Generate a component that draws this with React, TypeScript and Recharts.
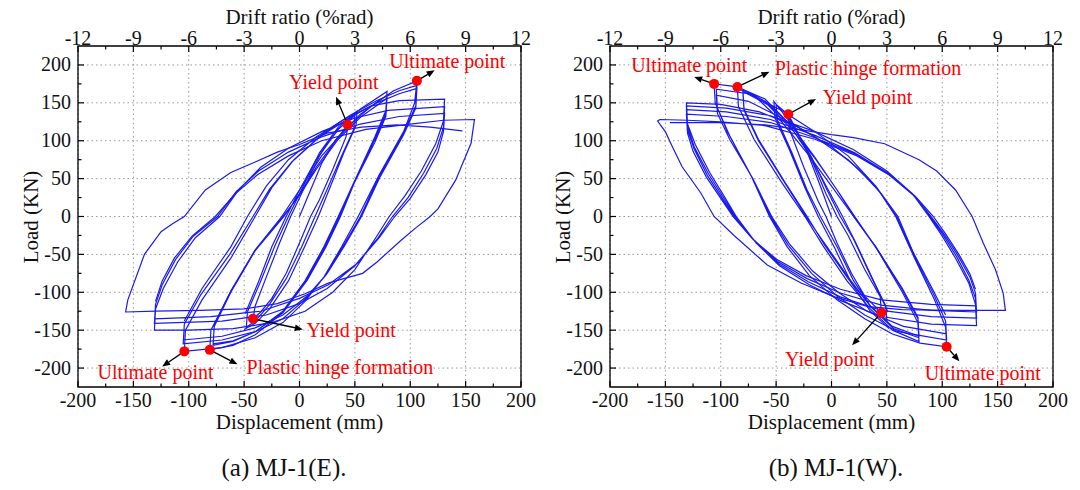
import React from 'react';
import {
  ComposedChart,
  Line,
  XAxis,
  YAxis,
  CartesianGrid,
  ReferenceArea,
  ReferenceDot,
  ReferenceLine,
} from 'recharts';

type Pt = [number, number];

const FONT = "'Liberation Serif', 'Times New Roman', Times, 'DejaVu Serif', serif";
const BLUE = '#1a1af0';
const RED = '#ff0000';

// axis ticks (minor ticks are the ones without a label)
const DISP_TICKS = [-200, -175, -150, -125, -100, -75, -50, -25, 0, 25, 50, 75, 100, 125, 150, 175, 200];
const DISP_LABELS = [-200, -150, -100, -50, 0, 50, 100, 150, 200];
const DRIFT_TICKS = [-12, -10.5, -9, -7.5, -6, -4.5, -3, -1.5, 0, 1.5, 3, 4.5, 6, 7.5, 9, 10.5, 12];
const DRIFT_LABELS = [-12, -9, -6, -3, 0, 3, 6, 9, 12];
const LOAD_TICKS = [-200, -175, -150, -125, -100, -75, -50, -25, 0, 25, 50, 75, 100, 125, 150, 175, 200];
const LOAD_LABELS = [-200, -150, -100, -50, 0, 50, 100, 150, 200];

// ---- MJ-1(E): displacement (mm), load (kN) ----
const E_LOOP_50: Pt[] = [
  [0, 0], [10, 35], [20, 70], [32, 100], [44, 121],
  [42, 105], [30, 62], [18, 22], [10, 0], [0, -35], [-12, -75], [-25, -108], [-35, -126], [-42, -135],
  [-40, -118], [-30, -80], [-18, -35], [-8, 0], [5, 40], [18, 80], [32, 112], [50, 133],
  [49, 115], [38, 80], [25, 36], [14, 0], [2, -40], [-12, -82], [-28, -118], [-40, -138], [-48, -146],
  [-47, -126], [-35, -85], [-22, -38], [-10, 0], [4, 42], [18, 84], [35, 118], [52, 139],
  [51, 120], [40, 84], [28, 40], [17, 0], [4, -42], [-10, -85], [-27, -122], [-40, -141], [-50, -149],
];
const E_LOOP_80: Pt[] = [
  [-49, -128], [-37, -86], [-25, -40], [-12, 0], [0, 35], [15, 75], [35, 115], [55, 142], [79, 165],
  [78, 140], [68, 105], [50, 48], [35, 0], [22, -40], [5, -85], [-15, -125], [-40, -152], [-60, -165], [-78, -170],
  [-77, -145], [-62, -100], [-40, -45], [-14, 0], [0, 30], [15, 65], [35, 105], [55, 135], [79, 160],
  [78, 136], [68, 102], [50, 48], [36, 0], [23, -40], [6, -85], [-15, -127], [-40, -156], [-60, -170], [-81, -176],
  [-80, -150], [-63, -102], [-41, -47], [-15, 0], [0, 28], [15, 62], [35, 102], [55, 131], [79, 156],
  [78, 132], [68, 98], [50, 46], [37, 0], [24, -40], [7, -84], [-14, -125], [-40, -152], [-60, -164], [-78, -168],
];
const E_LOOP_105: Pt[] = [
  [-77, -143], [-62, -98], [-40, -44], [-16, 0], [0, 35], [20, 80], [45, 120], [65, 146], [85, 166], [106, 179],
  [104, 150], [94, 112], [72, 55], [53, 0], [38, -40], [22, -80], [5, -112], [-15, -140], [-40, -160], [-70, -173], [-104, -178],
  [-103, -150], [-88, -110], [-62, -55], [-40, 0], [-25, 38], [-5, 75], [20, 108], [45, 133], [70, 153], [90, 166], [106, 173],
  [105, 146], [94, 110], [72, 53], [55, 0], [40, -38], [24, -77], [6, -108], [-15, -135], [-40, -152], [-70, -163], [-105, -168],
  [-104, -142], [-89, -103], [-63, -50], [-42, 0], [-27, 36], [-7, 72], [18, 105], [45, 130], [70, 150], [90, 162], [106, 169],
  [105, 143], [94, 108], [73, 53], [56, 0], [41, -38], [25, -75], [7, -105], [-15, -130], [-40, -147], [-70, -158], [-105, -163],
];
const E_LOOP_130: Pt[] = [
  [-104, -138], [-88, -95], [-62, -40], [-47, 0], [-30, 40], [-10, 75], [15, 105], [40, 128], [65, 146], [90, 153], [131, 155],
  [130, 126], [123, 96], [110, 60], [95, 27], [81, 0], [68, -30], [50, -70], [30, -100], [5, -125], [-25, -140], [-60, -148], [-100, -150], [-131, -150],
  [-130, -122], [-123, -95], [-110, -60], [-94, -28], [-72, 0], [-55, 35], [-35, 65], [-10, 90], [20, 112], [50, 130], [80, 140], [131, 145],
  [130, 118], [124, 90], [112, 57], [98, 25], [84, 0], [70, -30], [50, -65], [25, -95], [0, -115], [-30, -130], [-70, -138], [-131, -141],
  [-130, -116], [-124, -90], [-112, -57], [-96, -26], [-74, 0], [-57, 33], [-37, 60], [-10, 85], [20, 105], [55, 122], [90, 132], [131, 136],
  [130, 112], [125, 85], [114, 55], [100, 24], [86, 0], [72, -28], [52, -62], [26, -90], [0, -108], [-35, -125], [-80, -132], [-131, -135],
];
const E_LOOP_158: Pt[] = [
  [-130, -112], [-124, -85], [-113, -55], [-97, -26], [-76, 0], [-58, 30], [-38, 55], [-10, 80], [20, 100], [60, 115], [100, 122], [130, 127], [158, 128],
  [156, 108], [155, 97], [141, 48], [125, 10], [118, 0], [105, -15], [92, -31], [70, -60], [57, -75], [40, -82], [26, -88], [5, -102], [-20, -115], [-50, -122], [-90, -124], [-130, -125], [-157, -126],
  [-155, -110], [-140, -50], [-125, -20], [-115, -10], [-104, 0], [-85, 35], [-62, 58], [-40, 72], [-20, 85], [0, 95], [25, 110], [56, 118], [88, 121], [118, 118], [147, 113],
];
const E_MARKS: Pt[] = [[43.5, 121], [106, 179], [-42, -135], [-81, -176], [-104, -178]];
const E_ARROWS: [Pt, Pt][] = [
  [[106, 179], [122, 193]],
  [[43.5, 121], [33, 158]],
  [[-42, -135], [3, -149]],
  [[-81, -176], [-56, -195]],
  [[-104, -178], [-124, -198]],
];
const E_NOTES: [string, number, number][] = [
  ['Ultimate point', 133.5, 205.7],
  ['Yield point', 31, 178],
  ['Yield point', 46.6, -150],
  ['Plastic hinge formation', 36.5, -198.7],
  ['Ultimate point', -130, -205],
];

// ---- MJ-1(W) ----
const W_LOOP_50: Pt[] = [
  [0, 0], [-10, 40], [-22, 85], [-32, 115], [-39, 135],
  [-38, 115], [-25, 65], [-12, 20], [-5, 0], [5, -35], [18, -75], [30, -105], [45, -127],
  [44, -106], [30, -70], [15, -25], [5, 0], [-5, 30], [-18, 75], [-32, 115], [-42, 138], [-50, 148],
  [-49, 128], [-36, 85], [-22, 35], [-10, 0], [5, -40], [20, -85], [35, -118], [50, -138],
  [49, -118], [36, -80], [20, -30], [8, 0], [-4, 35], [-18, 78], [-35, 120], [-52, 152],
  [-51, 130], [-38, 88], [-24, 38], [-12, 0], [3, -42], [18, -88], [35, -125], [52, -148],
];
const W_LOOP_80: Pt[] = [
  [51, -126], [38, -85], [22, -35], [10, 0], [-4, 38], [-20, 82], [-40, 125], [-60, 152], [-80, 168],
  [-79, 142], [-66, 102], [-42, 45], [-22, 0], [-6, -38], [15, -82], [35, -118], [55, -145], [79, -158],
  [78, -133], [64, -95], [40, -40], [20, 0], [5, 35], [-15, 78], [-35, 118], [-60, 155], [-85, 171],
  [-84, 145], [-70, 102], [-45, 45], [-24, 0], [-7, -40], [14, -85], [35, -122], [55, -150], [79, -165],
  [78, -140], [64, -100], [41, -43], [21, 0], [6, 33], [-14, 75], [-34, 112], [-58, 148], [-80, 165],
  [-79, 140], [-66, 100], [-42, 44], [-23, 0], [-5, -38], [16, -82], [36, -120], [56, -148], [79, -160],
];
const W_LOOP_105: Pt[] = [
  [78, -135], [64, -97], [40, -40], [20, 0], [0, 40], [-20, 80], [-45, 125], [-70, 160], [-90, 172], [-106, 175],
  [-105, 150], [-94, 112], [-73, 55], [-56, 0], [-40, -40], [-20, -78], [5, -110], [30, -135], [55, -155], [80, -167], [104, -172],
  [103, -146], [93, -110], [75, -55], [58, 0], [40, 40], [15, 80], [-15, 112], [-45, 140], [-75, 162], [-104, 168],
  [-103, 143], [-92, 107], [-72, 52], [-55, 0], [-39, -38], [-18, -75], [5, -105], [30, -130], [60, -152], [104, -163],
  [103, -138], [93, -105], [75, -52], [59, 0], [41, 38], [15, 75], [-15, 105], [-45, 130], [-75, 152], [-104, 160],
  [-103, 136], [-92, 102], [-71, 50], [-54, 0], [-38, -36], [-17, -72], [6, -100], [32, -125], [65, -145], [104, -155],
];
const W_LOOP_130: Pt[] = [
  [103, -130], [92, -98], [74, -48], [60, 0], [45, 30], [25, 62], [0, 92], [-30, 118], [-65, 138], [-100, 148], [-131, 150],
  [-130, 122], [-123, 95], [-110, 58], [-97, 27], [-86, 0], [-68, -35], [-47, -65], [-20, -90], [10, -112], [45, -132], [90, -142], [131, -144],
  [130, -116], [124, -88], [112, -55], [100, -26], [88, 0], [73, 30], [50, 60], [20, 88], [-15, 112], [-55, 133], [-95, 143], [-131, 146],
  [-130, 119], [-124, 92], [-111, 56], [-98, 26], [-87, 0], [-69, -33], [-48, -62], [-21, -86], [8, -106], [45, -124], [90, -132], [131, -134],
  [130, -108], [124, -84], [113, -53], [101, -25], [89, 0], [74, 28], [51, 57], [21, 84], [-15, 107], [-55, 128], [-95, 138], [-131, 141],
  [-130, 115], [-124, 89], [-112, 54], [-99, 25], [-88, 0], [-70, -31], [-49, -59], [-22, -82], [8, -101], [45, -117], [90, -124], [131, -126],
  [130, -101], [125, -80], [114, -51], [102, -24], [90, 0], [75, 27], [52, 55], [22, 82], [-15, 104], [-55, 124], [-95, 132], [-131, 135],
  [-130, 110], [-125, 86], [-113, 52], [-100, 24], [-89, 0], [-71, -30], [-50, -56], [-23, -78], [8, -96], [45, -110], [90, -116], [131, -118],
];
const W_LOOP_158: Pt[] = [
  [130, -96], [125, -76], [115, -50], [103, -23], [92, 0], [76, 26], [53, 54], [23, 80], [-15, 102], [-60, 120], [-100, 125], [-130, 127], [-155, 128], [-157, 126],
  [-154, 120], [-150, 112], [-144, 93], [-135, 66], [-118, 31], [-106, 0], [-88, -25], [-58, -64], [-27, -88], [3, -106], [33, -119], [64, -123], [110, -124], [157, -124],
  [155, -101], [148, -70], [137, -35], [127, 0], [112, 35], [95, 60], [79, 75], [48, 96], [20, 104], [0, 108], [-30, 115], [-60, 121], [-100, 124], [-146, 124],
];
const W_MARKS: Pt[] = [[-106, 175], [-85, 171], [-39, 135], [45, -127], [104, -172]];
const W_ARROWS: [Pt, Pt][] = [
  [[-106, 175], [-124, 184]],
  [[-85, 171], [-56, 191]],
  [[-39, 135], [-14, 155]],
  [[45, -127], [18.6, -170]],
  [[104, -172], [115.5, -191]],
];
const W_NOTES: [string, number, number][] = [
  ['Ultimate point', -128.5, 200],
  ['Plastic hinge formation', 33, 195.6],
  ['Yield point', 32.5, 158],
  ['Yield point', -1.5, -187.6],
  ['Ultimate point', 136.5, -206.6],
];

const toRows = (pts: Pt[]) => pts.map(([d, L]) => ({ d, L }));
// two invisible points that give the drift-ratio axis its extent
const driftRows = [DRIFT_LABELS[0], DRIFT_LABELS[DRIFT_LABELS.length - 1]].map((dr) => ({ dr, L: 0 }));

const tickStyle = { fontFamily: FONT, fontSize: 20, fill: '#111' };
const GAP = 4;

const bottomTick = (p: any) => {
  const v = p.payload.value;
  const ay = p.y - GAP;
  const major = DISP_LABELS.includes(v);
  return (
    <g>
      <line x1={p.x} x2={p.x} y1={ay} y2={ay - (major ? 6 : 3.5)} stroke="#000" strokeWidth={1.2} />
      {major && (
        <text x={p.x} y={ay + 20} textAnchor="middle" fontFamily={FONT} style={tickStyle}>
          {v}
        </text>
      )}
    </g>
  );
};

const topTick = (p: any) => {
  const v = p.payload.value;
  const ay = p.y + GAP;
  const major = DRIFT_LABELS.includes(v);
  return (
    <g>
      <line x1={p.x} x2={p.x} y1={ay} y2={ay + (major ? 6 : 3.5)} stroke="#000" strokeWidth={1.2} />
      {major && (
        <text x={p.x} y={ay - 1} textAnchor="middle" fontFamily={FONT} style={tickStyle}>
          {v}
        </text>
      )}
    </g>
  );
};

const leftTick = (p: any) => {
  const v = p.payload.value;
  const ax = p.x + GAP;
  const major = LOAD_LABELS.includes(v);
  return (
    <g>
      <line x1={ax} x2={ax + (major ? 6 : 3.5)} y1={p.y} y2={p.y} stroke="#000" strokeWidth={1.2} />
      {major && (
        <text x={ax - 7} y={p.y + 6.5} textAnchor="end" fontFamily={FONT} style={tickStyle}>
          {v}
        </text>
      )}
    </g>
  );
};

const arrowShape = (p: any) => {
  const { x1, y1, x2, y2 } = p;
  const a = Math.atan2(y2 - y1, x2 - x1);
  const h = 8;
  const w = 3.3;
  const bx = x2 - h * Math.cos(a);
  const by = y2 - h * Math.sin(a);
  const pts = `${x2},${y2} ${bx - w * Math.sin(a)},${by + w * Math.cos(a)} ${bx + w * Math.sin(a)},${by - w * Math.cos(a)}`;
  return (
    <g>
      <line x1={x1} y1={y1} x2={bx} y2={by} stroke="#000" strokeWidth={1.3} />
      <polygon points={pts} fill="#000" />
    </g>
  );
};

const noteShape = (text: string) => (p: any) => (
  <text
    x={p.cx}
    y={p.cy}
    textAnchor="middle"
    dominantBaseline="central"
    fontFamily={FONT}
    style={{ fontFamily: FONT, fontSize: 20, fill: RED }}
  >
    {text}
  </text>
);

const CHART_W = 540;
const PLOT_L = 78;
const PLOT_W = 443;

interface PanelProps {
  left: number;
  loops: Pt[][];
  marks: Pt[];
  arrows: [Pt, Pt][];
  notes: [string, number, number][];
  caption: string;
  captionX: number;
}

const Panel: React.FC<PanelProps> = ({ left, loops, marks, arrows, notes, caption, captionX }) => {
  const mid = left + PLOT_L + PLOT_W / 2;
  const titleStyle: React.CSSProperties = {
    position: 'absolute',
    fontFamily: FONT,
    fontSize: 21,
    lineHeight: '14px',
    color: '#111',
    textAlign: 'center',
    whiteSpace: 'nowrap',
    width: 300,
  };
  return (
    <>
      <div style={{ position: 'absolute', left, top: 0 }}>
        <ComposedChart
          width={CHART_W}
          height={490}
          margin={{ top: 0, right: CHART_W - PLOT_L - PLOT_W, bottom: 53, left: 0 }}
        >
          <CartesianGrid
            xAxisId="disp"
            yAxisId="load"
            verticalValues={DISP_LABELS}
            horizontalValues={LOAD_LABELS}
            stroke="#9a9a9a"
            strokeDasharray="1.5 3"
          />
          <XAxis
            xAxisId="disp"
            dataKey="d"
            type="number"
            domain={[-200, 200]}
            ticks={DISP_TICKS}
            interval={0}
            height={50}
            tickSize={0}
            tickMargin={GAP}
            tickLine={false}
            axisLine={false}
            tick={bottomTick}
          />
          <XAxis
            xAxisId="drift"
            dataKey="dr"
            orientation="top"
            type="number"
            domain={[-12, 12]}
            ticks={DRIFT_TICKS}
            interval={0}
            height={46}
            tickSize={0}
            tickMargin={GAP}
            tickLine={false}
            axisLine={false}
            tick={topTick}
          />
          <YAxis
            yAxisId="load"
            type="number"
            domain={[-225, 225]}
            ticks={LOAD_TICKS}
            interval={0}
            width={PLOT_L}
            tickSize={0}
            tickMargin={GAP}
            tickLine={false}
            axisLine={false}
            tick={leftTick}
          />
          <Line
            xAxisId="drift"
            yAxisId="load"
            data={driftRows}
            dataKey="L"
            stroke="none"
            dot={false}
            activeDot={false}
            isAnimationActive={false}
          />
          {loops.map((lp, i) => (
            <Line
              key={i}
              xAxisId="disp"
              yAxisId="load"
              data={toRows(lp)}
              dataKey="L"
              type="linear"
              stroke={BLUE}
              strokeWidth={1.2}
              dot={false}
              activeDot={false}
              isAnimationActive={false}
            />
          ))}
          <ReferenceArea
            xAxisId="disp"
            yAxisId="load"
            x1={-200}
            x2={200}
            y1={-225}
            y2={225}
            fill="none"
            fillOpacity={0}
            stroke="#000"
            strokeWidth={1.3}
            ifOverflow="visible"
          />
          {arrows.map(([a, b], i) => (
            <ReferenceLine
              key={'a' + i}
              xAxisId="disp"
              yAxisId="load"
              segment={[{ x: a[0], y: a[1] }, { x: b[0], y: b[1] }]}
              ifOverflow="visible"
              shape={arrowShape}
            />
          ))}
          {marks.map(([d, L], i) => (
            <ReferenceDot
              key={'m' + i}
              xAxisId="disp"
              yAxisId="load"
              x={d}
              y={L}
              r={5}
              fill={RED}
              stroke="none"
              ifOverflow="visible"
            />
          ))}
          {notes.map(([t, d, L], i) => (
            <ReferenceDot
              key={'n' + i}
              xAxisId="disp"
              yAxisId="load"
              x={d}
              y={L}
              r={0}
              ifOverflow="visible"
              shape={noteShape(t)}
            />
          ))}
        </ComposedChart>
      </div>
      <div style={{ ...titleStyle, left: mid - 150, top: 10 }}>Drift ratio (%rad)</div>
      <div style={{ ...titleStyle, left: mid - 150, top: 415 }}>Displacement (mm)</div>
      <div
        style={{
          ...titleStyle,
          width: 200,
          left: left + 31 - 100,
          top: 209.7,
          transform: 'rotate(-90deg)',
        }}
      >
        Load (KN)
      </div>
      <div
        style={{
          ...titleStyle,
          fontSize: 25,
          lineHeight: '26px',
          left: captionX - 150,
          top: 455,
        }}
      >
        {caption}
      </div>
    </>
  );
};

export default function App() {
  return (
    <div
      style={{
        position: 'absolute',
        left: 0,
        top: 0,
        width: 1080,
        height: 490,
        background: '#fff',
        fontFamily: FONT,
      }}
    >
      <Panel
        left={0}
        loops={[E_LOOP_50, E_LOOP_80, E_LOOP_105, E_LOOP_130, E_LOOP_158]}
        marks={E_MARKS}
        arrows={E_ARROWS}
        notes={E_NOTES}
        caption="(a) MJ-1(E)."
        captionX={284}
      />
      <Panel
        left={532}
        loops={[W_LOOP_50, W_LOOP_80, W_LOOP_105, W_LOOP_130, W_LOOP_158]}
        marks={W_MARKS}
        arrows={W_ARROWS}
        notes={W_NOTES}
        caption="(b) MJ-1(W)."
        captionX={836}
      />
    </div>
  );
}
